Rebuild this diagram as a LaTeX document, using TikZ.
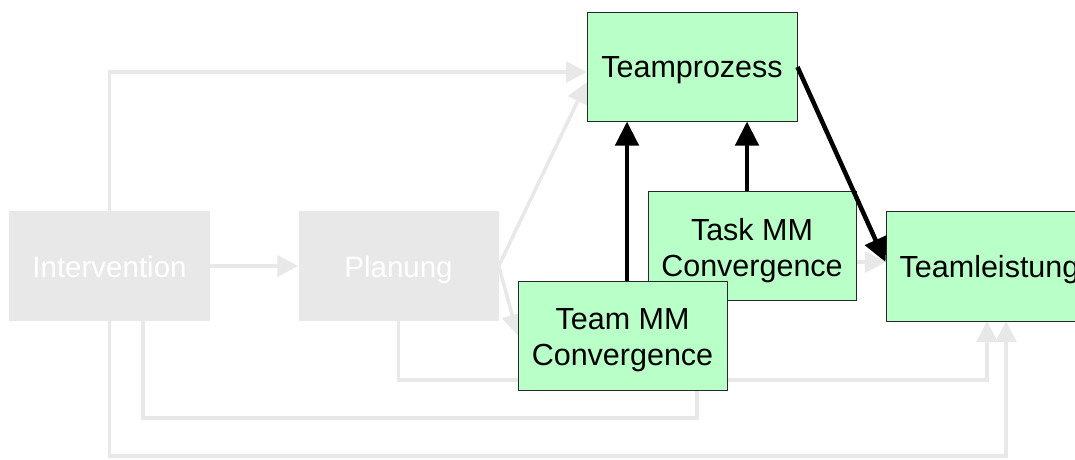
\documentclass[tikz,border=0pt]{standalone}
\usepackage{fontspec}
\setmainfont{Liberation Sans}
\usetikzlibrary{arrows.meta,calc}
\definecolor{boxgreen}{RGB}{184,255,200}
\definecolor{fadegray}{RGB}{232,232,232}
\definecolor{edgegray}{RGB}{40,40,40}
\tikzset{
  fadebox/.style={rectangle, inner sep=0pt, fill=fadegray},
  greenbox/.style={rectangle, inner sep=0pt, fill=boxgreen, draw=edgegray, line width=1pt},
  fadetext/.style={inner sep=0pt, align=center, text=white,
    font=\fontsize{29.5pt}{36pt}\selectfont},
  greentext/.style={inner sep=0pt, align=center, text=black,
    font=\fontsize{30.5pt}{36pt}\selectfont},
  fadearrow/.style={draw=fadegray, line width=3.5pt,
    -{Triangle[length=21pt,width=21pt]}, fadegray},
  boldarrow/.style={draw=black, line width=4.5pt,
    -{Triangle[length=24pt,width=23pt]}}
}
\begin{document}
\begin{tikzpicture}[x=1pt,y=-1pt]
\fill[white] (0,0) rectangle (1075,459);
\useasboundingbox (0,0) rectangle (1075,459);

% faded nodes
\node[fadebox, minimum width=201pt, minimum height=110pt] (iv) at (109.5,266) {};
\node[fadetext] (iv-t) at ([yshift=-1pt]iv.center) {Intervention};
\node[fadebox, minimum width=200pt, minimum height=110pt] (pl) at (398.5,266) {};
\node[fadetext] (pl-t) at ([yshift=-4pt]pl.center) {Planung};

% outlines of the highlighted nodes, used by the faded connectors underneath
\path (692,66.5) node[minimum width=210pt, minimum height=109pt, inner sep=0pt] (tpc) {};
\path (752,245.5) node[minimum width=208pt, minimum height=109pt, inner sep=0pt] (tac) {};
\path (622.5,335.5) node[minimum width=209pt, minimum height=109pt, inner sep=0pt] (tmc) {};
\path (989.5,266) node[minimum width=207pt, minimum height=110pt, inner sep=0pt] (tlc) {};

% faded connectors
\draw[fadearrow] (iv.east) -- (pl.west);
\draw[fadearrow] (iv.north) |- (tpc.west |- 0,72);
\draw[fadearrow] (pl.east) -- (tpc.west |- 0,82);
\draw[fadearrow] (pl.east) -- (tmc.west);
\draw[fadearrow] (pl.south) -- (398.5,380) -| (tlc.south -| 987,0);
\draw[fadearrow] (iv.south -| 143,0) -- (143,418) -| (tac.south -| 697,0);
\draw[fadearrow] (iv.south) -- (109.5,456) -| (tlc.south -| 1006,0);
\draw[fadearrow] (tac.east |- 0,262) -- (tlc.west |- 0,262);

% highlighted nodes
\node[greenbox, minimum width=210pt, minimum height=109pt] (tp) at (692,66.5) {};
\node[greentext] (tp-t) at ([yshift=-4pt]tp.center) {Teamprozess};
\node[greenbox, minimum width=208pt, minimum height=109pt] (ta) at (752,245.5) {};
\node[greentext] (ta-t) at ([yshift=-5pt]ta.center) {Task MM\\Convergence};
\node[greenbox, minimum width=209pt, minimum height=109pt] (tm) at (622.5,335.5) {};
\node[greentext] (tm-t) at ([yshift=-5pt]tm.center) {Team MM\\Convergence};
\node[greenbox, minimum width=207pt, minimum height=110pt] (tl) at (989.5,266) {};
\node[greentext] (tl-t) at ([yshift=-4pt]tl.center) {Teamleistung};

% highlighted connectors
\draw[boldarrow] (tm.north -| 627,0) -- (tp.south -| 627,0);
\draw[boldarrow] (ta.north -| 747,0) -- (tp.south -| 747,0);
\draw[boldarrow] (tp.east |- 0,67) -- (tl.west |- 0,262);
\end{tikzpicture}
\end{document}
